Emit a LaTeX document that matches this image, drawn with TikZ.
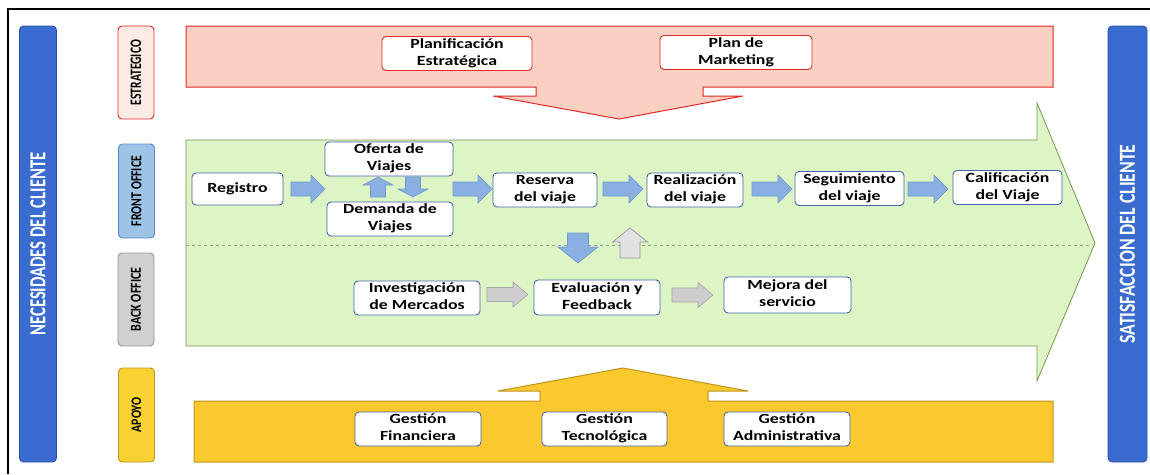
\documentclass[tikz,border=0pt]{standalone}
\usepackage{fontspec}
\setmainfont{Carlito}
\usepackage{graphicx}

% palette
\definecolor{barblue}{RGB}{58,108,208}
\definecolor{barblueD}{RGB}{40,78,160}
\definecolor{stratfill}{RGB}{250,208,194}
\definecolor{stratline}{RGB}{226,40,40}
\definecolor{stratlab}{RGB}{253,236,230}
\definecolor{frontlab}{RGB}{157,195,230}
\definecolor{frontlabD}{RGB}{90,140,205}
\definecolor{backlab}{RGB}{208,208,208}
\definecolor{backlabD}{RGB}{150,150,150}
\definecolor{apoyofill}{RGB}{251,200,46}
\definecolor{apoyoline}{RGB}{190,150,30}
\definecolor{apoyolab}{RGB}{248,210,50}
\definecolor{greenfill}{RGB}{221,245,196}
\definecolor{greenline}{RGB}{120,150,80}
\definecolor{dashline}{RGB}{150,165,135}
\definecolor{nodeblue}{RGB}{70,100,170}
\definecolor{arrowblue}{RGB}{138,176,225}
\definecolor{arrowblueD}{RGB}{112,152,210}
\definecolor{arrowgrey}{RGB}{206,206,206}
\definecolor{arrowgreyD}{RGB}{165,165,165}

% horizontally widened two-line box text
\newcommand\wt[1]{\scalebox{1.27}[1]{\begin{tabular}{@{}c@{}}#1\end{tabular}}}
% vertical labels sized to an exact length and letter height
\newcommand\vt[3]{\resizebox{#1pt}{#2pt}{\bfseries #3}}
% block arrow: style, tail x, tail y, direction, length, shaft half, head half, head length
\newcommand\blockarrow[8]{%
  \draw[#1, shift={(#2,#3)}, rotate=#4]
    (0,-#6) -- ({#5-#8},-#6) -- ({#5-#8},-#7) -- (#5,0)
    -- ({#5-#8},#7) -- ({#5-#8},#6) -- (0,#6) -- cycle;}

\tikzset{
  box/.style={draw=nodeblue, fill=white, rounded corners=4pt, line width=0.9pt,
    inner sep=0pt, font=\fontsize{14}{17}\selectfont\bfseries},
  rbox/.style={box, draw=stratline},
  sidebar/.style={rotate=90, draw=barblueD, fill=barblue, rounded corners=4pt,
    line width=0.8pt, minimum height=37pt, inner sep=0pt, text=white},
  lanelab/.style={rotate=90, rounded corners=4pt, line width=0.9pt,
    minimum height=36pt, inner sep=0pt},
  bluearrow/.style={draw=arrowblueD, fill=arrowblue, line width=0.6pt},
  greyarrow/.style={draw=arrowgreyD, fill=arrowgrey, line width=0.6pt},
  lightarrow/.style={draw=backlabD, fill=arrowgrey!60!white, line width=0.7pt},
}

\begin{document}
\begin{tikzpicture}[x=1pt,y=-1pt]
\useasboundingbox (0,0) rectangle (1150,474);
\fill[white] (0,0) rectangle (1150,474);

% outer frame
\draw[line width=2pt] (8,474) -- (8,9) -- (1150,9);

% customer side bars
\node[sidebar, minimum width=436pt] (needs) at (38,244)
  {\vt{183}{15}{NECESIDADES DEL CLIENTE}};
\node[sidebar, minimum width=436pt, minimum height=39pt] (satis) at (1127.5,244)
  {\vt{199}{15}{SATISFACCION DEL CLIENTE}};

% lane labels
\node[lanelab, draw=stratline, fill=stratlab, minimum width=93pt] (lstrat) at (136,72.5)
  {\vt{65}{10.5}{ESTRATEGICO}};
\node[lanelab, draw=frontlabD, fill=frontlab, minimum width=94pt] (lfront) at (136.5,191)
  {\vt{70}{10}{FRONT OFFICE}};
\node[lanelab, draw=backlabD, fill=backlab, minimum width=93pt] (lback) at (136,299.5)
  {\vt{64}{10}{BACK OFFICE}};
\node[lanelab, draw=apoyoline, fill=apoyolab, minimum width=94pt] (lapoyo) at (136.5,415)
  {\vt{35}{9.5}{APOYO}};

% strategic banner pushing down into the process
\draw[stratline, fill=stratfill, line width=1pt]
  (186,26) -- (1053,26) -- (1053,87) -- (703,87) -- (703,96) -- (743,96)
  -- (619,119) -- (493,96) -- (536,96) -- (536,87) -- (186,87) -- cycle;

% main process arrow (front and back office)
\draw[greenline, fill=greenfill, line width=0.8pt]
  (186,140) -- (1037,140) -- (1037,103) -- (1095,243) -- (1037,381)
  -- (1037,346) -- (186,346) -- cycle;
\draw[dashline, dashed, line width=0.7pt] (186,245) -- (1092,245);

% support banner pushing up
\draw[apoyoline, fill=apoyofill, line width=1pt]
  (194,401) -- (540,401) -- (540,391) -- (498,391) -- (623,368) -- (748,391)
  -- (708,391) -- (708,401) -- (1053,401) -- (1053,462) -- (194,462) -- cycle;

% strategic activities
\node[rbox, minimum width=150pt, minimum height=33pt] (plan) at (457,53.5)
  {\wt{Planificación\\Estratégica}};
\node[rbox, minimum width=152pt, minimum height=33pt] (mkt) at (736,52.5)
  {\wt{Plan de\\Marketing}};

% front office flow
\node[box, minimum width=91pt, minimum height=32pt] (reg) at (237.5,189) {\wt{Registro}};
\node[box, minimum width=128pt, minimum height=28pt] (ofe) at (389,159) {\wt{Oferta de\\Viajes}};
\node[box, minimum width=126pt, minimum height=28pt] (dem) at (390,219) {\wt{Demanda de\\Viajes}};
\node[box, minimum width=104pt, minimum height=30pt] (res) at (545,190) {\wt{Reserva\\del viaje}};
\node[box, minimum width=96pt, minimum height=34pt] (rea) at (695,190) {\wt{Realización\\del viaje}};
\node[box, minimum width=109pt, minimum height=31pt] (seg) at (849.5,188.5) {\wt{Seguimiento\\del viaje}};
\node[box, minimum width=109pt, minimum height=31pt] (cal) at (1007.5,187.5) {\wt{Calificación\\del Viaje}};

\blockarrow{bluearrow}{291}{189}{0}{34}{7}{14}{14}
\blockarrow{bluearrow}{453}{189}{0}{39}{7}{14}{14}
\blockarrow{bluearrow}{603}{189}{0}{40}{7}{14}{14}
\blockarrow{bluearrow}{752}{189}{0}{40}{7}{14}{14}
\blockarrow{bluearrow}{908}{189}{0}{40}{7}{14}{14}
\blockarrow{bluearrow}{378}{197}{90}{20}{7.5}{15}{8}
\blockarrow{bluearrow}{413}{177}{-90}{20}{7.5}{15}{8}

% exchange between front and back office
\blockarrow{bluearrow}{578}{233}{-90}{30}{10.5}{20}{16}
\blockarrow{lightarrow}{630}{258}{90}{30}{10}{17.5}{14}

% back office flow
\node[box, minimum width=126pt, minimum height=34pt] (inv) at (417,298) {\wt{Investigación\\de Mercados}};
\node[box, minimum width=126pt, minimum height=35pt] (eva) at (597,297.5) {\wt{Evaluación y\\Feedback}};
\node[box, minimum width=127pt, minimum height=36pt] (mej) at (787.5,295) {\wt{Mejora del\\servicio}};
\blockarrow{greyarrow}{487}{294.5}{0}{41}{7}{12.5}{15}
\blockarrow{greyarrow}{672}{295}{0}{41}{7}{12.5}{15}

% support activities
\node[box, minimum width=126pt, minimum height=34pt] (fin) at (418,429) {\wt{Gestión\\Financiera}};
\node[box, minimum width=125pt, minimum height=34pt] (tec) at (604.5,429) {\wt{Gestión\\Tecnológica}};
\node[box, minimum width=126pt, minimum height=34pt] (adm) at (787,429) {\wt{Gestión\\Administrativa}};
\end{tikzpicture}
\end{document}
